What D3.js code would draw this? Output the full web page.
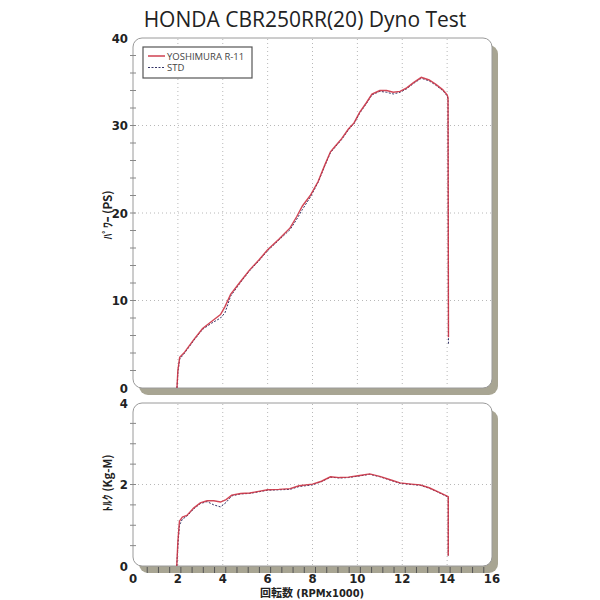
<!DOCTYPE html>
<html>
<head>
<meta charset="utf-8">
<script src="https://cdn.jsdelivr.net/npm/d3@7"></script>
<style>
  body { margin: 0; background: #fff; }
  svg { display: block; }
  .num { font-family: 'DejaVu Sans Condensed', 'DejaVu Sans', sans-serif; font-stretch: condensed; font-weight: bold; font-size: 13px; }
</style>
</head>
<body>
<svg id="chart" width="600" height="600"></svg>
<script>
// power curves (rpm x1000, PS)
const powerRpm = [1.96, 2.0, 2.08, 2.3, 2.7, 3.1, 3.5, 3.9, 4.1, 4.35, 4.8, 5.2, 5.6, 6.0, 6.5, 7.0, 7.3, 7.55, 7.9, 8.25, 8.55, 8.8, 9.0, 9.3, 9.6, 9.85, 10.1, 10.4, 10.65, 11.0, 11.3, 11.6, 11.9, 12.2, 12.5, 12.85, 13.2, 13.5, 13.8, 14.0, 14.04, 14.06];
const powerR11 = [0, 2.0, 3.5, 4.1, 5.5, 6.8, 7.6, 8.4, 9.3, 10.7, 12.2, 13.5, 14.6, 15.8, 17.0, 18.3, 19.6, 20.8, 22.0, 23.6, 25.5, 27.0, 27.6, 28.5, 29.6, 30.3, 31.5, 32.6, 33.6, 34.0, 34.0, 33.8, 33.9, 34.3, 34.9, 35.5, 35.2, 34.7, 34.1, 33.5, 33.2, 5.8];
const powerStd = [0, 1.8, 3.3, 4.0, 5.4, 6.7, 7.4, 8.0, 8.6, 10.5, 12.1, 13.4, 14.5, 15.7, 16.9, 18.1, 19.3, 20.4, 21.8, 23.5, 25.4, 26.9, 27.5, 28.4, 29.5, 30.2, 31.4, 32.5, 33.5, 33.9, 33.8, 33.6, 33.8, 34.2, 34.8, 35.4, 35.1, 34.6, 34.0, 33.4, 33.0, 4.9];

// torque curves (rpm x1000, Kg-M)
const torqueRpm = [1.95, 2.0, 2.07, 2.2, 2.4, 2.7, 3.0, 3.3, 3.6, 3.9, 4.15, 4.4, 4.8, 5.2, 5.6, 6.0, 6.5, 7.0, 7.4, 8.0, 8.4, 8.8, 9.2, 9.6, 10.1, 10.55, 11.0, 11.5, 11.9, 12.4, 12.8, 13.2, 13.6, 14.05, 14.05];
const torqueR11 = [0, 0.6, 1.1, 1.2, 1.24, 1.42, 1.55, 1.6, 1.6, 1.57, 1.63, 1.74, 1.78, 1.79, 1.83, 1.87, 1.88, 1.9, 1.97, 2.01, 2.08, 2.19, 2.17, 2.18, 2.22, 2.26, 2.2, 2.11, 2.04, 2.01, 1.99, 1.92, 1.82, 1.7, 0.25];
const torqueStd = [0, 0.5, 1.0, 1.15, 1.22, 1.4, 1.53, 1.58, 1.5, 1.45, 1.56, 1.72, 1.77, 1.78, 1.82, 1.86, 1.87, 1.88, 1.95, 1.99, 2.07, 2.18, 2.16, 2.17, 2.21, 2.25, 2.19, 2.1, 2.03, 2.0, 1.98, 1.91, 1.81, 1.69, 0.22];

const xTicks = [0, 2, 4, 6, 8, 10, 12, 14, 16];
const powerTicks = [0, 10, 20, 30, 40];
const torqueTicks = [0, 2, 4];

const titleText = "HONDA CBR250RR(20) Dyno Test";
const seriesNames = ["YOSHIMURA R-11", "STD"];

const svg = d3.select("#chart");
const RED = "#cc3344", NAVY = "#333366";
const SHADOW = "#a8a593";

const x = d3.scaleLinear().domain([0, 16]).range([133, 492]);
const yP = d3.scaleLinear().domain([0, 40]).range([388, 38]);
const yT = d3.scaleLinear().domain([0, 4]).range([566, 403]);

svg.append("text")
    .attr("x", 305).attr("y", 27)
    .attr("text-anchor", "middle")
    .style("font", "21px 'Open Sans'")
    .attr("fill", "#222")
    .text(titleText);

const panel = (yScale, ticks, minorStep, rpm, r11, std, label, labelY) => {
    const top = yScale.range()[1], bot = yScale.range()[0];
    const left = x.range()[0], right = x.range()[1];
    const g = svg.append("g");

    // shadow + panel
    g.append("rect")
        .attr("x", left + 6).attr("y", top + 7)
        .attr("width", right - left).attr("height", bot - top)
        .attr("rx", 9).attr("fill", SHADOW);
    g.append("rect")
        .attr("x", left).attr("y", top)
        .attr("width", right - left).attr("height", bot - top)
        .attr("rx", 9).attr("fill", "#fff")
        .attr("stroke", "#9a9a9a").attr("stroke-width", 1);

    // grid
    g.selectAll("line.vg").data(xTicks.slice(1, -1)).join("line")
        .attr("x1", d => x(d)).attr("x2", d => x(d))
        .attr("y1", top + 1).attr("y2", bot - 1)
        .attr("stroke", "#b8b8b8").attr("stroke-dasharray", "1,3");
    g.selectAll("line.hg").data(ticks.slice(1, -1)).join("line")
        .attr("y1", d => yScale(d)).attr("y2", d => yScale(d))
        .attr("x1", left + 1).attr("x2", right - 1)
        .attr("stroke", "#b8b8b8").attr("stroke-dasharray", "1,3");

    // minor ticks on left axis
    const dMax = yScale.domain()[1];
    g.selectAll("line.yt").data(d3.range(minorStep, dMax, minorStep)).join("line")
        .attr("x1", left - 3).attr("x2", left + 3)
        .attr("y1", d => yScale(d)).attr("y2", d => yScale(d))
        .attr("stroke", "#888").attr("stroke-width", 1);

    g.selectAll("text.yl").data(ticks).join("text")
        .attr("class", "num")
        .attr("x", 128).attr("y", d => yScale(d))
        .attr("dy", "0.36em")
        .attr("text-anchor", "end")
        .attr("fill", "#222")
        .text(d => d);

    g.append("text")
        .attr("transform", `translate(112,${labelY}) rotate(-90)`)
        .attr("text-anchor", "middle")
        .style("font", "bold 11.5px 'Noto Sans CJK JP'")
        .attr("fill", "#222")
        .text(label);

    const line = vals => d3.line()
        .x((d, i) => x(rpm[i]))
        .y(d => yScale(d))(vals);

    g.append("path").attr("d", line(std))
        .attr("fill", "none").attr("stroke", NAVY)
        .attr("stroke-width", 1).attr("stroke-dasharray", "2,1.5");
    g.append("path").attr("d", line(r11))
        .attr("fill", "none").attr("stroke", RED)
        .attr("stroke-width", 1.4).attr("opacity", 0.9);
    return g;
};

panel(yP, powerTicks, 2, powerRpm, powerR11, powerStd, "ﾊﾟﾜｰ (PS)", 215);
panel(yT, torqueTicks, 0.5, torqueRpm, torqueR11, torqueStd, "ﾄﾙｸ (Kg-M)", 483);

// x ticks on bottom shadow bar
svg.selectAll("line.xt").data(d3.range(0.5, 16, 0.5)).join("line")
    .attr("x1", d => x(d) + 3).attr("x2", d => x(d) + 3)
    .attr("y1", 567).attr("y2", 573)
    .attr("stroke", "#555").attr("stroke-width", 1);

svg.selectAll("text.xl").data(xTicks).join("text")
    .attr("class", "num")
    .attr("x", d => x(d)).attr("y", 583)
    .attr("text-anchor", "middle")
    .attr("fill", "#222")
    .text(d => d);

svg.append("text")
    .attr("x", 312).attr("y", 597.2)
    .attr("text-anchor", "middle")
    .style("font", "bold 11px 'DejaVu Sans Condensed', 'Noto Sans CJK JP'")
    .style("font-stretch", "condensed")
    .attr("fill", "#222")
    .text("回転数 (RPMx1000)");

// legend
const lg = svg.append("g");
lg.append("rect")
    .attr("x", 143).attr("y", 47).attr("width", 109).attr("height", 31)
    .attr("fill", "#fff").attr("stroke", "#555").attr("stroke-width", 1.2);
seriesNames.forEach((name, i) => {
    const yy = 56 + i * 11.5;
    lg.append("line")
        .attr("x1", 148).attr("x2", 165).attr("y1", yy).attr("y2", yy)
        .attr("stroke", i === 0 ? RED : NAVY)
        .attr("stroke-width", i === 0 ? 1.4 : 1)
        .attr("stroke-dasharray", i === 0 ? null : "2,1.5");
    lg.append("text")
        .attr("x", 167).attr("y", yy + 3.5)
        .style("font", "9.5px 'Open Sans'")
        .attr("fill", "#444")
        .text(name);
});
</script>
</body>
</html>
